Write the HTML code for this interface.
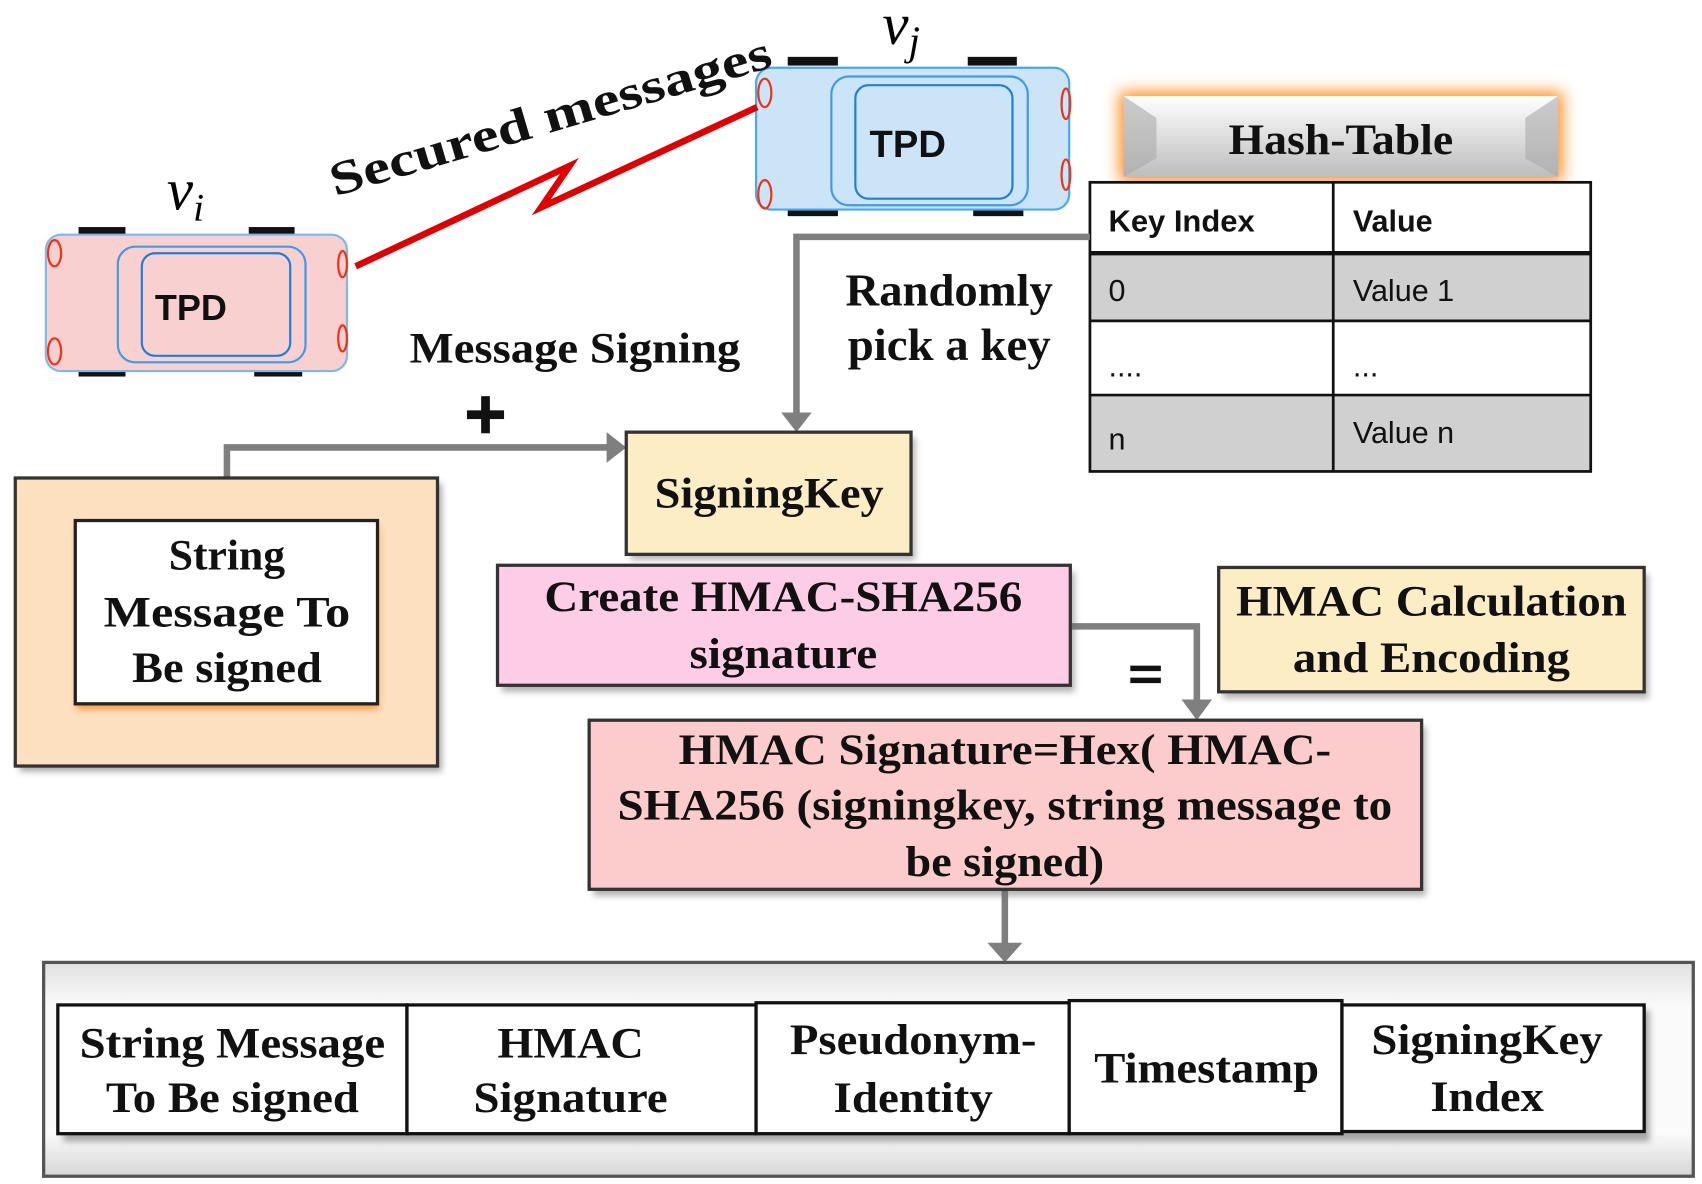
<!DOCTYPE html>
<html><head><meta charset="utf-8"><style>
html,body{margin:0;padding:0;background:#fff;}
svg{display:block}
.s{font-family:"Liberation Serif",serif;font-weight:bold;fill:#111;}
.a{font-family:"Liberation Sans",sans-serif;fill:#111;}
</style></head><body>
<svg width="1702" height="1184" viewBox="0 0 1560 1085" xmlns="http://www.w3.org/2000/svg">
<defs>
<linearGradient id="hg" x1="0" y1="0" x2="0" y2="1"><stop offset="0" stop-color="#fff"/><stop offset="1" stop-color="#bdbdbd"/></linearGradient>
<linearGradient id="bg" x1="0" y1="0" x2="0" y2="1"><stop offset="0" stop-color="#e0e0e0"/><stop offset="0.2" stop-color="#fafafa"/><stop offset="0.8" stop-color="#fafafa"/><stop offset="1" stop-color="#d6d6d6"/></linearGradient>
<filter id="gl" x="-20%" y="-40%" width="140%" height="180%"><feGaussianBlur stdDeviation="7"/></filter>
<filter id="sh" x="-10%" y="-10%" width="130%" height="140%"><feGaussianBlur stdDeviation="3"/></filter>
</defs>

<!-- car vi -->
<g>
<rect x="72" y="208" width="43" height="7" fill="#111"/><rect x="228" y="208" width="42" height="7" fill="#111"/>
<rect x="72" y="338" width="43" height="7" fill="#111"/><rect x="233" y="338" width="44" height="7" fill="#111"/>
<rect x="42" y="215" width="276" height="125" rx="14" fill="#f9d0d0" stroke="#7ab8f0" stroke-width="2"/>
<rect x="108" y="226" width="172" height="106" rx="16" fill="none" stroke="#3f9ae8" stroke-width="2"/>
<rect x="130" y="232" width="136" height="94" rx="12" fill="none" stroke="#1e7fd8" stroke-width="2"/>
<ellipse cx="50" cy="232" rx="6" ry="12" fill="none" stroke="#f03010" stroke-width="2"/>
<ellipse cx="50" cy="322" rx="6" ry="12" fill="none" stroke="#f03010" stroke-width="2"/>
<ellipse cx="314" cy="242" rx="4" ry="12" fill="none" stroke="#f03010" stroke-width="2"/>
<ellipse cx="314" cy="310" rx="4" ry="12" fill="none" stroke="#f03010" stroke-width="2"/>
<text x="175" y="293" class="a" font-size="33" font-weight="bold" text-anchor="middle">TPD</text>
<text x="170" y="192" font-family="Liberation Serif,serif" font-style="italic" font-size="54" text-anchor="middle">v<tspan font-size="36" dy="10">i</tspan></text>
</g>
<!-- car vj -->
<g>
<rect x="722" y="52" width="46" height="8" fill="#111"/><rect x="887" y="52" width="45" height="8" fill="#111"/>
<rect x="722" y="190" width="46" height="8" fill="#111"/><rect x="892" y="190" width="46" height="8" fill="#111"/>
<rect x="693" y="62" width="287" height="130" rx="14" fill="#cce4f8" stroke="#4aa8f0" stroke-width="2"/>
<rect x="762" y="70" width="180" height="118" rx="16" fill="none" stroke="#3f9ae8" stroke-width="2"/>
<rect x="784" y="78" width="144" height="104" rx="12" fill="none" stroke="#1e7fd8" stroke-width="2"/>
<ellipse cx="701" cy="85" rx="6" ry="13" fill="none" stroke="#f03010" stroke-width="2"/>
<ellipse cx="701" cy="178" rx="6" ry="13" fill="none" stroke="#f03010" stroke-width="2"/>
<ellipse cx="977" cy="95" rx="4" ry="14" fill="none" stroke="#f03010" stroke-width="2"/>
<ellipse cx="977" cy="160" rx="4" ry="14" fill="none" stroke="#f03010" stroke-width="2"/>
<text x="832" y="144" class="a" font-size="35" font-weight="bold" text-anchor="middle">TPD</text>
<text x="826" y="40" font-family="Liberation Serif,serif" font-style="italic" font-size="54" text-anchor="middle">v<tspan font-size="38" dy="10">j</tspan></text>
</g>
<!-- lightning -->
<polyline points="326,244 522,152 496,190 694,98" fill="none" stroke="#e00000" stroke-width="6" stroke-linejoin="miter"/>
<text class="s" font-size="44" transform="translate(307,180) rotate(-16.5)" textLength="420" lengthAdjust="spacingAndGlyphs">Secured messages</text>

<!-- hash table -->
<rect x="1026" y="84" width="406" height="82" fill="#ff8c1a" filter="url(#gl)"/>
<rect x="1030" y="88" width="398" height="74" fill="url(#hg)"/>
<polygon points="1030,88 1060,108 1060,145 1030,162" fill="#aaa" opacity="0.6"/>
<polygon points="1428,88 1398,108 1398,145 1428,162" fill="#aaa" opacity="0.6"/>
<text x="1229" y="141" class="s" font-size="40" text-anchor="middle" textLength="206" lengthAdjust="spacingAndGlyphs">Hash-Table</text>
<rect x="999" y="167" width="459" height="65" fill="#fff"/>
<rect x="999" y="232" width="459" height="62" fill="#d0d0d0"/>
<rect x="999" y="294" width="459" height="68" fill="#fff"/>
<rect x="999" y="362" width="459" height="70" fill="#d0d0d0"/>
<g stroke="#111" stroke-width="2.5" fill="none">
<rect x="999" y="167" width="459" height="265"/>
<line x1="1222" y1="167" x2="1222" y2="432"/>
<line x1="999" y1="232" x2="1458" y2="232" stroke-width="4"/>
<line x1="999" y1="294" x2="1458" y2="294"/>
<line x1="999" y1="362" x2="1458" y2="362"/>
</g>
<g class="a" font-size="28">
<text x="1016" y="212" font-weight="bold" textLength="134" lengthAdjust="spacingAndGlyphs">Key Index</text>
<text x="1240" y="212" font-weight="bold">Value</text>
<text x="1016" y="276">0</text><text x="1240" y="276">Value 1</text>
<text x="1016" y="345">....</text><text x="1240" y="345">...</text>
<text x="1016" y="412">n</text><text x="1240" y="406">Value n</text>
</g>

<!-- connectors -->
<g stroke="#7f7f7f" stroke-width="6" fill="none">
<polyline points="999,217 730,217 730,382"/>
<polyline points="208,477 208,410 560,410"/>
<polyline points="981,574 1097,574 1097,645"/>
<line x1="921" y1="815" x2="921" y2="868"/>
</g>
<g fill="#7f7f7f">
<polygon points="716,378 744,378 730,396"/>
<polygon points="556,396 556,424 574,410"/>
<polygon points="1083,641 1111,641 1097,660"/>
<polygon points="905,864 937,864 921,882"/>
</g>

<text x="870" y="280" class="s" font-size="42" text-anchor="middle" textLength="190" lengthAdjust="spacingAndGlyphs">Randomly</text>
<text x="870" y="330" class="s" font-size="42" text-anchor="middle" textLength="186" lengthAdjust="spacingAndGlyphs">pick a key</text>
<text x="527" y="332" class="s" font-size="40" text-anchor="middle" textLength="303" lengthAdjust="spacingAndGlyphs">Message Signing</text>
<g fill="#111"><rect x="428" y="376" width="34" height="8"/><rect x="441" y="363" width="8" height="34"/></g>

<!-- string box -->
<rect x="18" y="443" width="387" height="264" fill="#555" filter="url(#sh)" opacity="0.5"/>
<rect x="14" y="438" width="387" height="264" fill="#fde0c0" stroke="#333" stroke-width="3"/>
<rect x="70" y="482" width="277" height="168" fill="#f59a40" filter="url(#sh)"/>
<rect x="69" y="477" width="277" height="168" fill="#fff" stroke="#222" stroke-width="3"/>
<g class="s" font-size="40" text-anchor="middle">
<text x="208" y="522">String</text>
<text x="208" y="574" textLength="226" lengthAdjust="spacingAndGlyphs">Message  To</text>
<text x="208" y="625" textLength="174" lengthAdjust="spacingAndGlyphs">Be signed</text>
</g>

<!-- signing key -->
<rect x="578" y="401" width="261" height="112" fill="#666" filter="url(#sh)" opacity="0.5"/>
<rect x="574" y="396" width="261" height="112" fill="#fdedc5" stroke="#333" stroke-width="3"/>
<text x="705" y="465" class="s" font-size="40" text-anchor="middle" textLength="210" lengthAdjust="spacingAndGlyphs">SigningKey</text>

<!-- create hmac -->
<rect x="460" y="524" width="525" height="110" fill="#666" filter="url(#sh)" opacity="0.5"/>
<rect x="456" y="518" width="525" height="110" fill="#fdcde8" stroke="#333" stroke-width="3"/>
<text x="718" y="560" class="s" font-size="40" text-anchor="middle" textLength="438" lengthAdjust="spacingAndGlyphs">Create HMAC-SHA256</text>
<text x="718" y="612" class="s" font-size="40" text-anchor="middle" textLength="172" lengthAdjust="spacingAndGlyphs">signature</text>

<!-- calc -->
<rect x="1121" y="526" width="390" height="114" fill="#666" filter="url(#sh)" opacity="0.5"/>
<rect x="1117" y="520" width="390" height="114" fill="#fdedc5" stroke="#333" stroke-width="3"/>
<text x="1312" y="564" class="s" font-size="40" text-anchor="middle" textLength="358" lengthAdjust="spacingAndGlyphs">HMAC Calculation</text>
<text x="1312" y="616" class="s" font-size="40" text-anchor="middle" textLength="254" lengthAdjust="spacingAndGlyphs">and Encoding</text>
<g fill="#111"><rect x="1036" y="610" width="28" height="5"/><rect x="1036" y="621" width="28" height="5"/></g>

<!-- signature box -->
<rect x="544" y="666" width="763" height="155" fill="#666" filter="url(#sh)" opacity="0.5"/>
<rect x="540" y="660" width="763" height="155" fill="#fccccc" stroke="#333" stroke-width="3"/>
<g class="s" font-size="40" text-anchor="middle">
<text x="921" y="700" textLength="598" lengthAdjust="spacingAndGlyphs">HMAC Signature=Hex( HMAC-</text>
<text x="921" y="751" textLength="710" lengthAdjust="spacingAndGlyphs">SHA256 (signingkey, string message to</text>
<text x="921" y="803" textLength="182" lengthAdjust="spacingAndGlyphs">be signed)</text>
</g>

<!-- bottom -->
<rect x="40" y="882" width="1512" height="196" fill="url(#bg)" stroke="#555" stroke-width="3"/>
<rect x="58" y="926" width="1454" height="120" fill="#555" filter="url(#sh)" opacity="0.5"/>
<g fill="#fff" stroke="#111" stroke-width="3">
<rect x="53" y="921" width="320" height="118"/>
<rect x="373" y="921" width="320" height="118"/>
<rect x="693" y="919" width="287" height="120"/>
<rect x="980" y="917" width="250" height="122"/>
<rect x="1230" y="921" width="277" height="116"/>
</g>
<g class="s" font-size="40" text-anchor="middle">
<text x="213" y="969" textLength="280" lengthAdjust="spacingAndGlyphs">String Message</text>
<text x="213" y="1019" textLength="232" lengthAdjust="spacingAndGlyphs">To Be signed</text>
<text x="523" y="969" textLength="134" lengthAdjust="spacingAndGlyphs">HMAC</text>
<text x="523" y="1019" textLength="178" lengthAdjust="spacingAndGlyphs">Signature</text>
<text x="837" y="966" textLength="226" lengthAdjust="spacingAndGlyphs">Pseudonym-</text>
<text x="837" y="1019" textLength="146" lengthAdjust="spacingAndGlyphs">Identity</text>
<text x="1106" y="992" textLength="206" lengthAdjust="spacingAndGlyphs">Timestamp</text>
<text x="1363" y="966" textLength="212" lengthAdjust="spacingAndGlyphs">SigningKey</text>
<text x="1363" y="1018" textLength="104" lengthAdjust="spacingAndGlyphs">Index</text>
</g>
</svg>
</body></html>
